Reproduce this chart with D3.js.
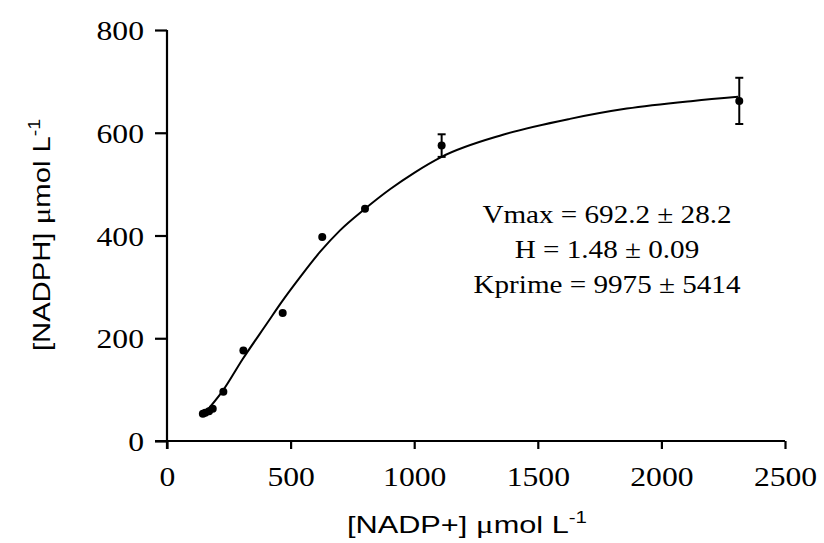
<!DOCTYPE html>
<html><head><meta charset="utf-8">
<script src="https://cdn.jsdelivr.net/npm/d3@7"></script>
<style>body{margin:0;background:#fff}svg{display:block}</style>
</head><body>
<script>
// Data
const nadp = [145, 155, 170, 185, 228, 309, 468, 628, 801, 1111, 2315];
const nadph = [53, 55, 58, 63, 96, 176, 249, 397, 452, 575, 662];
const errs = [0, 0, 0, 0, 0, 0, 0, 0, 0, 22, 45];
// Fitted curve
const fitX = [145, 226, 307, 409, 457, 540, 619, 700, 801, 902, 1000, 1111, 1359, 1630, 1860, 2128, 2310];
const fitY = [50, 98, 160, 232, 266, 320, 368, 410, 452, 490, 522, 553, 596, 627, 647, 662, 670];
const xTicks = [0, 500, 1000, 1500, 2000, 2500];
const yTicks = [0, 200, 400, 600, 800];
const annot = ["Vmax = 692.2 \u00b1 28.2", "H = 1.48 \u00b1 0.09", "Kprime = 9975 \u00b1 5414"];

const W = 824, H = 543;
const svg = d3.select("body").append("svg").attr("width", W).attr("height", H);
const x = d3.scaleLinear().domain([0, 2500]).range([167, 785]);
const y = d3.scaleLinear().domain([0, 800]).range([441, 30]);

const serif = "'Liberation Serif','Times New Roman',serif";
const sans = "'Liberation Sans',Arial,sans-serif";

function stretch(sel, k) {
  sel.each(function() {
    const L = this.getComputedTextLength();
    d3.select(this).attr("textLength", L * k).attr("lengthAdjust", "spacingAndGlyphs");
  });
}

const xAxis = svg.append("g").attr("transform", "translate(0,441)")
  .call(d3.axisBottom(x).tickValues(xTicks).tickSize(8).tickPadding(12).tickFormat(d3.format("d")));
const yAxis = svg.append("g").attr("transform", "translate(167,0)")
  .call(d3.axisLeft(y).tickValues(yTicks).tickSize(12).tickPadding(11).tickFormat(d3.format("d")));
[xAxis, yAxis].forEach(g => {
  g.select(".domain").attr("stroke", "#000").attr("stroke-width", 2.2)
    .attr("d", g === xAxis ? "M155,0H785" : "M0,30V449");
  g.selectAll(".tick line").attr("stroke", "#000").attr("stroke-width", 2.2);
  g.selectAll(".tick text").attr("fill", "#000").style("font-family", serif).style("font-size", "28px");
});
yAxis.selectAll(".tick text").attr("dy", "0.34em");
xAxis.selectAll(".tick text").attr("dy", "0.9em");
stretch(xAxis.selectAll(".tick text"), 1.13);
stretch(yAxis.selectAll(".tick text"), 1.13);

// Curve
const pts = fitX.map((v, i) => [v, fitY[i]]);
svg.append("path").datum(pts)
  .attr("fill", "none").attr("stroke", "#000").attr("stroke-width", 2)
  .attr("d", d3.line().x(d => x(d[0])).y(d => y(d[1])).curve(d3.curveMonotoneX));

// Error bars
const data = nadp.map((v, i) => ({x: v, y: nadph[i], e: errs[i]}));
const eb = svg.append("g").selectAll("g").data(data.filter(d => d.e > 0)).join("g");
eb.append("line").attr("x1", d => x(d.x)).attr("x2", d => x(d.x))
  .attr("y1", d => y(d.y + d.e)).attr("y2", d => y(d.y - d.e)).attr("stroke", "#000").attr("stroke-width", 2);
[1, -1].forEach(s => eb.append("line").attr("x1", d => x(d.x) - 4).attr("x2", d => x(d.x) + 4)
  .attr("y1", d => y(d.y + s * d.e)).attr("y2", d => y(d.y + s * d.e)).attr("stroke", "#000").attr("stroke-width", 2));

// Points
svg.append("g").selectAll("circle").data(data).join("circle")
  .attr("cx", d => x(d.x)).attr("cy", d => y(d.y)).attr("r", 4).attr("fill", "#000");

// Annotation
const an = svg.append("g").selectAll("text").data(annot).join("text")
  .attr("x", 607).attr("y", (d, i) => 223 + i * 35).attr("text-anchor", "middle")
  .style("font-family", serif).style("font-size", "26px").attr("fill", "#000").text(d => d);
stretch(an, 1.12);

// Axis titles
function title(t, main) {
  t.append("tspan").text("[" + main + "] ");
  t.append("tspan").style("font-family", serif).style("font-size", "26px").text("\u03bc");
  t.append("tspan").text("mol L");
  t.append("tspan").attr("dy", -10).style("font-size", "16px").text("-1");
}
const xt = svg.append("text").attr("x", 467).attr("y", 533).attr("text-anchor", "middle")
  .style("font-family", sans).style("font-size", "24px").attr("fill", "#000");
title(xt, "NADP+");
xt.attr("textLength", 240).attr("lengthAdjust", "spacingAndGlyphs");

const yt = svg.append("text").attr("transform", "translate(50,235) rotate(-90)").attr("text-anchor", "middle")
  .style("font-family", sans).style("font-size", "24px").attr("fill", "#000");
title(yt, "NADPH");
yt.attr("textLength", 232).attr("lengthAdjust", "spacingAndGlyphs");
</script>
</body></html>
